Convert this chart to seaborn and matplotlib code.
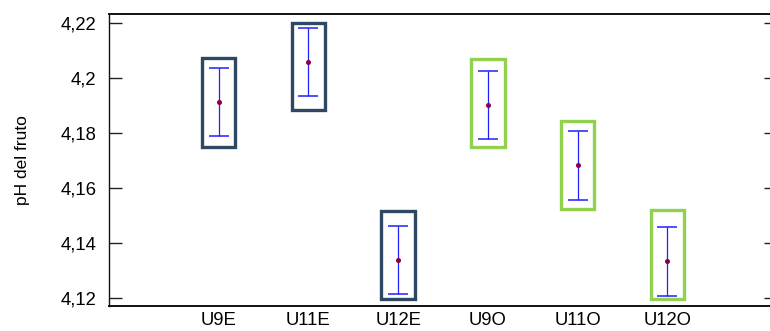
import matplotlib
matplotlib.use("Agg")
import matplotlib.pyplot as plt
import seaborn as sns
import pandas as pd
import numpy as np

# ---- data ----
categories = ["U9E", "U11E", "U12E", "U9O", "U11O", "U12O"]
means = [4.1911, 4.2056, 4.1337, 4.1901, 4.1683, 4.1333]
upper = [4.2034, 4.2180, 4.1462, 4.2024, 4.1806, 4.1458]
lower = [4.1788, 4.1932, 4.1213, 4.1777, 4.1555, 4.1206]
box_top = [4.2073, 4.2201, 4.1516, 4.2068, 4.1843, 4.1518]
box_bottom = [4.1748, 4.1883, 4.1195, 4.1749, 4.1524, 4.1195]
box_group = ["E", "E", "E", "O", "O", "O"]
y_ticks = [4.12, 4.14, 4.16, 4.18, 4.20, 4.22]

sns.set_style("white")
plt.rcParams["font.family"] = ["Liberation Sans", "DejaVu Sans"]
plt.rcParams["text.color"] = "black"
plt.rcParams["axes.labelcolor"] = "black"
plt.rcParams["xtick.color"] = "black"
plt.rcParams["ytick.color"] = "black"

df = pd.DataFrame({"cat": categories, "mean": means, "up": upper, "lo": lower,
                   "btop": box_top, "bbot": box_bottom, "grp": box_group})

fig = plt.figure(figsize=(7.7, 3.31), dpi=100)
ax = fig.add_axes([109 / 770, 1 - 306 / 331, (777 - 109) / 770, (306 - 14) / 331])

group_colors = {"E": "#2E4762", "O": "#92D050"}

# boxes
xpos = np.arange(len(categories))
ax.bar(xpos, df["btop"] - df["bbot"], bottom=df["bbot"], width=0.37,
       fill=False, edgecolor=[group_colors[g] for g in df["grp"]], linewidth=2.4, zorder=2)

# error bars
ax.errorbar(xpos, df["mean"], yerr=[df["mean"] - df["lo"], df["up"] - df["mean"]],
            fmt="none", ecolor="#2020ff", elinewidth=0.9, capsize=7.2, capthick=1.1, zorder=3)

# means
sns.pointplot(data=df, x="cat", y="mean", order=categories, linestyle="none",
              color="#8B0045", markers="o", markersize=1.6, errorbar=None, ax=ax, zorder=4)

ax.set_xlim(-1.22, 6.22)
ax.set_ylim(4.117, 4.2232)
ax.set_yticks(y_ticks)
ax.set_yticklabels([("%g" % v).replace(".", ",") for v in y_ticks])
ax.set_xlabel("")
ax.set_ylabel("pH del fruto", fontsize=12.5)
ax.yaxis.set_label_coords(-0.118, 0.5)

ax.tick_params(axis="y", direction="in", length=9.4, width=1.0, left=True, right=True,
               labelsize=13.3, pad=9, color="#222222")
ax.tick_params(axis="x", length=0, labelsize=13.3, pad=4)

for s in ["top", "bottom", "left", "right"]:
    ax.spines[s].set_visible(True)
    ax.spines[s].set_color("#111111")
ax.spines["top"].set_linewidth(1.4)
ax.spines["bottom"].set_linewidth(1.4)
ax.spines["left"].set_linewidth(1.0)

fig.savefig("out.png", dpi=100)
